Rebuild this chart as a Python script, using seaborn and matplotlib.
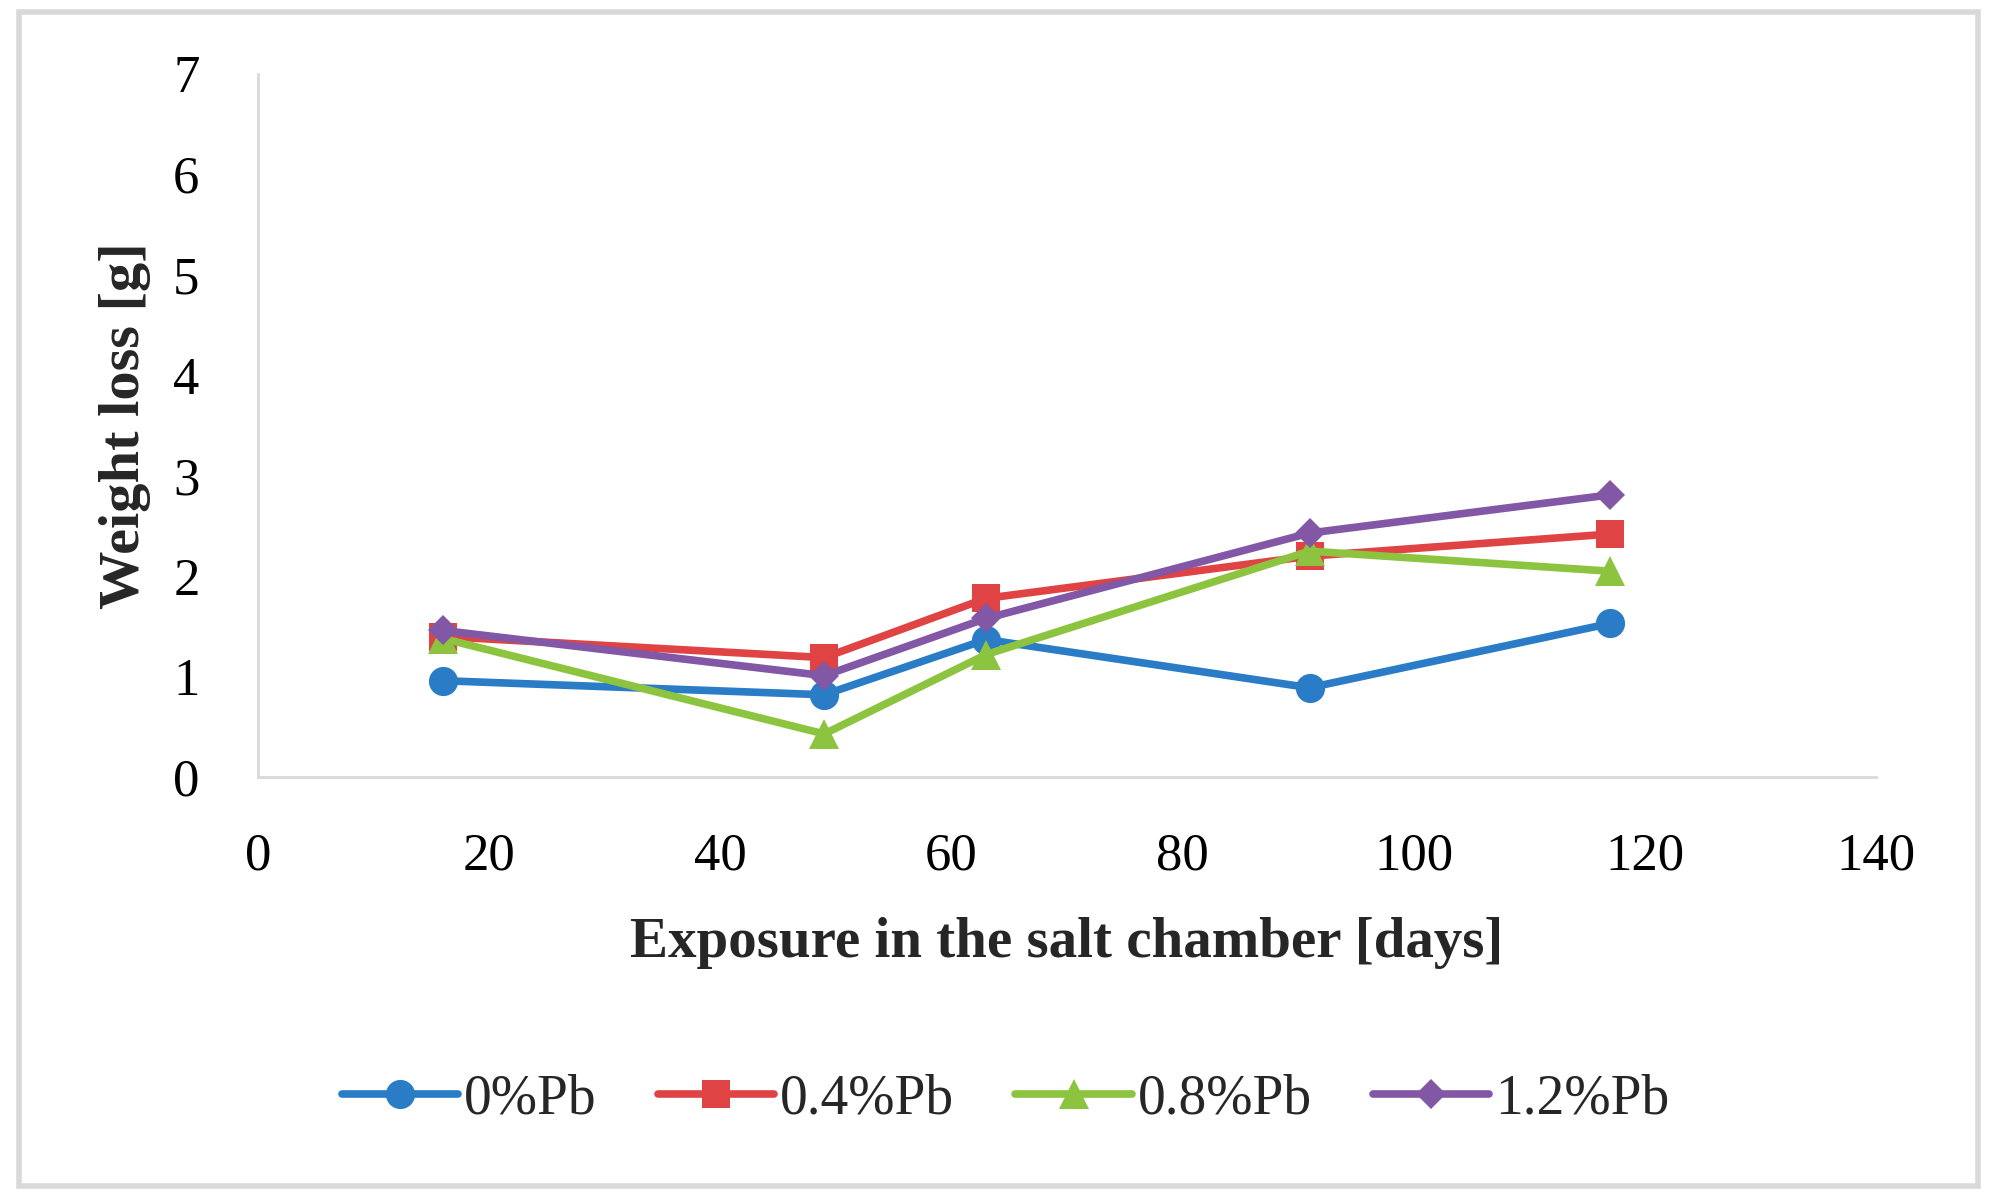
import seaborn as sns
import pandas as pd
import matplotlib.pyplot as plt
from matplotlib.patches import Rectangle

# Data
days = [16, 49, 63, 91, 117]
pb_0 = [0.96, 0.82, 1.37, 0.89, 1.53]
pb_04 = [1.40, 1.19, 1.78, 2.20, 2.42]
pb_08 = [1.38, 0.43, 1.22, 2.25, 2.05]
pb_12 = [1.46, 1.01, 1.58, 2.43, 2.81]
series_names = ['0%Pb', '0.4%Pb', '0.8%Pb', '1.2%Pb']
x_ticks = [0, 20, 40, 60, 80, 100, 120, 140]
y_ticks = [0, 1, 2, 3, 4, 5, 6, 7]

df = pd.DataFrame({
    'days': days * 4,
    'loss': pb_0 + pb_04 + pb_08 + pb_12,
    'alloy': [n for n in series_names for _ in days],
})

sns.set_style('white')
plt.rcParams['font.family'] = ['Liberation Serif', 'DejaVu Serif']

colors = ['#2A7CC6', '#E04343', '#8CC43F', '#8257A6']
markers = ['o', 's', '^', 'D']
msizes = [21, 20, 21, 15]

fig = plt.figure(figsize=(19.95, 12.03), dpi=100)
ax = fig.add_axes([0.1293, 0.354, 0.811, 0.5845])

# one call per series so each marker can get its own size
for name, c, m, ms in zip(series_names, colors, markers, msizes):
    sub = df[df['alloy'] == name]
    sns.lineplot(data=sub, x='days', y='loss', color=c, marker=m, markersize=ms,
                 markeredgewidth=0, linewidth=5.5, label=name, ax=ax)

ax.set_xlim(0, 140)
ax.set_ylim(0, 7)
ax.set_xticks(x_ticks)
ax.set_yticks(y_ticks)
ax.tick_params(axis='both', length=0, labelsize=38, colors='black')
ax.tick_params(axis='x', pad=40)
ax.tick_params(axis='y', pad=42)

for s in ['top', 'right']:
    ax.spines[s].set_visible(False)
for s in ['left', 'bottom']:
    ax.spines[s].set_color('#d9d9d9')
    ax.spines[s].set_linewidth(2)

ax.set_xlabel('Exposure in the salt chamber [days]', fontsize=41, fontweight='bold', labelpad=26)
ax.set_ylabel('Weight loss [g]', fontsize=42, fontweight='bold', labelpad=16)

# legend below the plot
ax.legend(loc='center', bbox_to_anchor=(0.504, 0.086), bbox_transform=fig.transFigure,
          ncol=4, frameon=False, fontsize=40, handlelength=2.1, handletextpad=0.1,
          columnspacing=1.1)

# light grey frame round the whole chart
fig.patches.append(Rectangle((0.0095, 0.014), 0.982, 0.976, transform=fig.transFigure,
                             fill=False, edgecolor='#d9d9d9', linewidth=4))

fig.savefig('out.png', dpi=100, facecolor='white')
